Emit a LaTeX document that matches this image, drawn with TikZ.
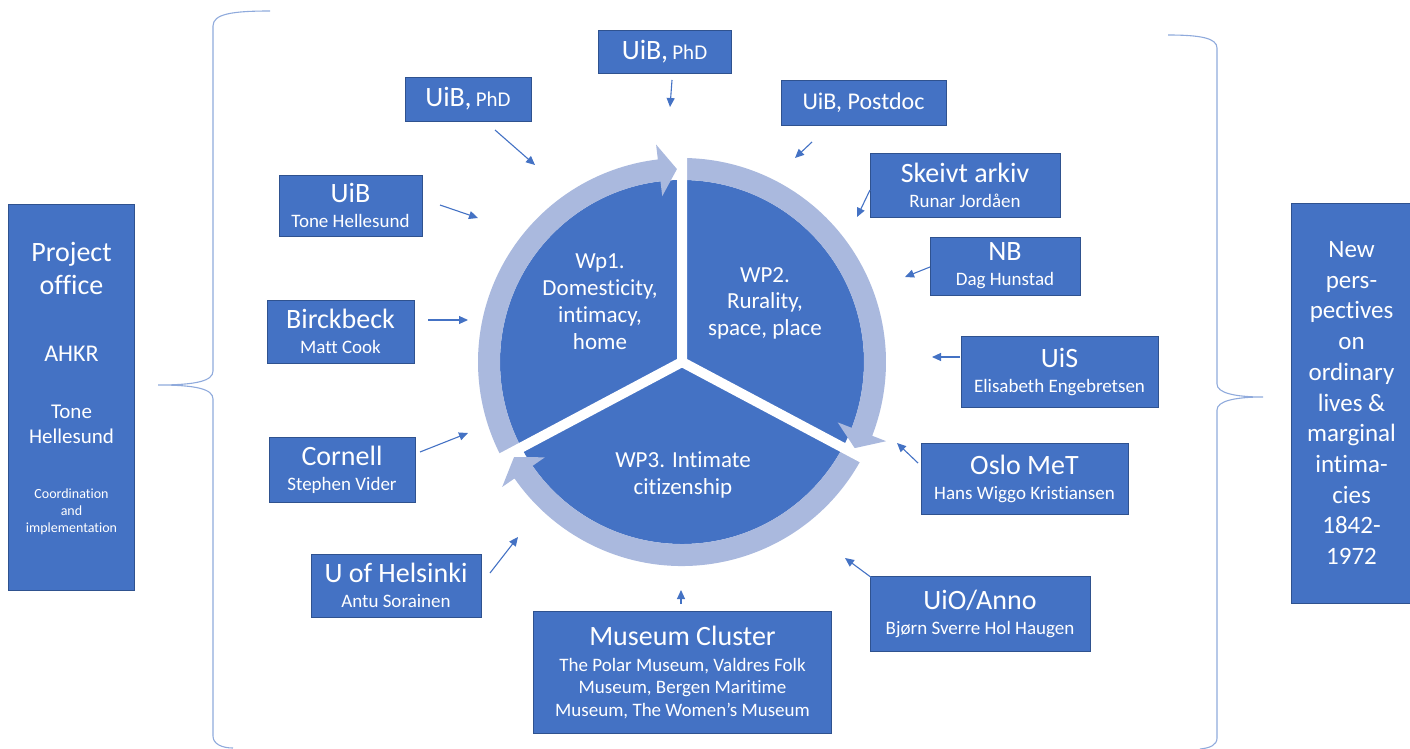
\documentclass[tikz,border=0pt]{standalone}
\usepackage{fontspec}
\setmainfont{Carlito}[Ligatures=NoCommon]
\usetikzlibrary{arrows.meta}
\definecolor{boxblue}{RGB}{68,114,196}
\definecolor{boxedge}{RGB}{47,82,143}
\definecolor{ringblue}{RGB}{170,185,222}
\definecolor{bracecol}{RGB}{143,170,220}
\newcommand{\boxtitle}[1]{{\fontsize{28}{30}\selectfont #1}}
\begin{document}
\begin{tikzpicture}[x=1pt,y=1pt,
  box/.style={fill=boxblue, draw=boxedge, line width=0.8pt, text=white, align=center, inner sep=0pt, font=\fontsize{19}{25}\selectfont},
  conn/.style={draw=boxblue, line width=1.1pt, -{Triangle[length=9pt,width=8pt]}},
  brace/.style={draw=bracecol, line width=1.1pt},
  ring/.style={fill=ringblue},
  pie/.style={fill=boxblue},
  wptext/.style={text=white, align=center, font=\fontsize{23}{26.7}\selectfont, inner sep=0pt},
  sidetext/.style={text=white, align=center, inner sep=0pt}
]
\useasboundingbox (0,0) rectangle (1410,-749);

% braces
\draw[brace] (270,-11) .. controls (232,-11) and (213,-14) .. (213,-26) -- (213,-371)
  .. controls (213,-381) and (196,-385) .. (158,-385)
  .. controls (196,-385) and (213,-389) .. (213,-399) -- (213,-736)
  .. controls (213,-744) and (222,-748) .. (233,-748);
\draw[brace] (1168,-35) .. controls (1200,-35) and (1217,-38) .. (1217,-48) -- (1217,-384)
  .. controls (1217,-393) and (1235,-397) .. (1263,-397)
  .. controls (1235,-397) and (1217,-401) .. (1217,-410) -- (1217,-738)
  .. controls (1217,-745) and (1210,-748) .. (1200,-749);

% cycle
\begin{scope}[shift={(682,-362)}]
\fill[pie] (0,0) circle (182);
\fill[ring] (208:204) arc[start angle=208, end angle=96.8, radius=204] -- (96.8:219) -- (91.5:193) -- (96.8:167) -- (96.8:182) arc[start angle=96.8, end angle=208, radius=182] -- cycle;
\fill[ring] (90:204) arc[start angle=90, end angle=-21.2, radius=204] -- (-21.2:219) -- (-26.5:193) -- (-21.2:167) -- (-21.2:182) arc[start angle=-21.2, end angle=90, radius=182] -- cycle;
\fill[ring] (-28:204) arc[start angle=-28, end angle=-145.2, radius=204] -- (-145.2:219) -- (-150.5:193) -- (-145.2:167) -- (-145.2:182) arc[start angle=-145.2, end angle=-28, radius=182] -- cycle;
\draw[white, line width=10pt] (0,0) -- (90:232) (0,0) -- (208:232) (0,0) -- (-28:232);
\end{scope}

\node[wptext] (wp1) at (600,-301.7) {Wp1.\\Domesticity,\\intimacy,\\home};
\node[wptext] (wp2) at (765,-303.3) {WP2.\\Rurality,\\space, place};
\node[wptext] (wp3) at (683,-475) {WP3. Intimate\\citizenship};

% side boxes
\node[box, minimum width=126, minimum height=386] (office) at (71.5,-397) {};
\node[sidetext, font=\fontsize{28}{33.3}\selectfont] (po1) at (71.5,-268.4) {Project\\office};
\node[sidetext, font=\fontsize{24}{28}\selectfont] (po2) at (71.5,-354) {AHKR};
\node[sidetext, font=\fontsize{21}{25}\selectfont] (po3) at (71.5,-424.2) {Tone\\Hellesund};
\node[sidetext, font=\fontsize{14}{16.7}\selectfont] (po4) at (71.5,-511.7) {Coordination\\and\\implementation};

\node[box, minimum width=121, minimum height=400, font=\fontsize{25}{30.7}\selectfont] (newp) at (1351.5,-403)
  {New\\pers-\\pectives\\on\\ordinary\\lives \&\\marginal\\intima-\\cies\\1842-\\1972};

% partner boxes
\node[box, minimum width=133, minimum height=43] (phdtop) at (664.5,-51.5) {\boxtitle{UiB,} {\fontsize{21}{25}\selectfont PhD}};
\node[box, minimum width=126, minimum height=44] (phdleft) at (468,-99) {\boxtitle{UiB,} {\fontsize{21}{25}\selectfont PhD}};
\node[box, minimum width=165, minimum height=45] (postdoc) at (863.5,-102.5) {{\fontsize{24}{28}\selectfont UiB, Postdoc}};
\node[box, minimum width=143, minimum height=61] (uibtone) at (350.5,-205.5) {\boxtitle{UiB}\\Tone Hellesund};
\node[box, minimum width=190, minimum height=64] (skeivt) at (965,-185) {\boxtitle{Skeivt arkiv}\\Runar Jordåen};
\node[box, minimum width=150, minimum height=58] (nb) at (1005,-266) {\boxtitle{NB}\\Dag Hunstad};
\node[box, minimum width=147, minimum height=63] (birck) at (340.5,-331.5) {\boxtitle{Birckbeck}\\Matt Cook};
\node[box, minimum width=197, minimum height=71] (uis) at (1059.5,-371.5) {\boxtitle{UiS}\\Elisabeth Engebretsen};
\node[box, minimum width=146, minimum height=65] (cornell) at (342,-469.5) {\boxtitle{Cornell}\\Stephen Vider};
\node[box, minimum width=207, minimum height=71] (oslo) at (1024.5,-478.5) {\boxtitle{Oslo MeT}\\Hans Wiggo Kristiansen};
\node[box, minimum width=170, minimum height=63] (helsinki) at (396,-585.5) {\boxtitle{U of Helsinki}\\Antu Sorainen};
\node[box, minimum width=220, minimum height=75] (uio) at (980,-613.5) {\boxtitle{UiO/Anno}\\Bjørn Sverre Hol Haugen};
\node[box, minimum width=298, minimum height=122, font=\fontsize{19}{22.5}\selectfont] (museum) at (682.5,-672.5)
  {\boxtitle{Museum Cluster}\\[3pt]The Polar Museum, Valdres Folk\\Museum, Bergen Maritime\\Museum, The Women’s Museum};

% connector ends
\coordinate (c1a) at (672,-80);   \coordinate (c1b) at (670,-107);
\coordinate (c2a) at (495,-130);  \coordinate (c2b) at (535,-165);
\coordinate (c3a) at (812,-142);  \coordinate (c3b) at (795,-158);
\coordinate (c4a) at (440,-205);  \coordinate (c4b) at (478,-218);
\coordinate (c5a) at (870,-190);  \coordinate (c5b) at (857,-217);
\coordinate (c6a) at (930,-267);  \coordinate (c6b) at (905,-277);
\coordinate (c7a) at (428,-320);  \coordinate (c7b) at (468,-320);
\coordinate (c8a) at (960,-357);  \coordinate (c8b) at (932,-357);
\coordinate (c9a) at (420,-452);  \coordinate (c9b) at (468,-433);
\coordinate (c10a) at (918,-463); \coordinate (c10b) at (897,-443);
\coordinate (c11a) at (490,-573); \coordinate (c11b) at (518,-537);
\coordinate (c12a) at (872,-578); \coordinate (c12b) at (845,-558);
\coordinate (c13a) at (681,-604); \coordinate (c13b) at (681,-590);

\foreach \i in {1,...,13} { \draw[conn] (c\i a) -- (c\i b); }
\end{tikzpicture}
\end{document}
